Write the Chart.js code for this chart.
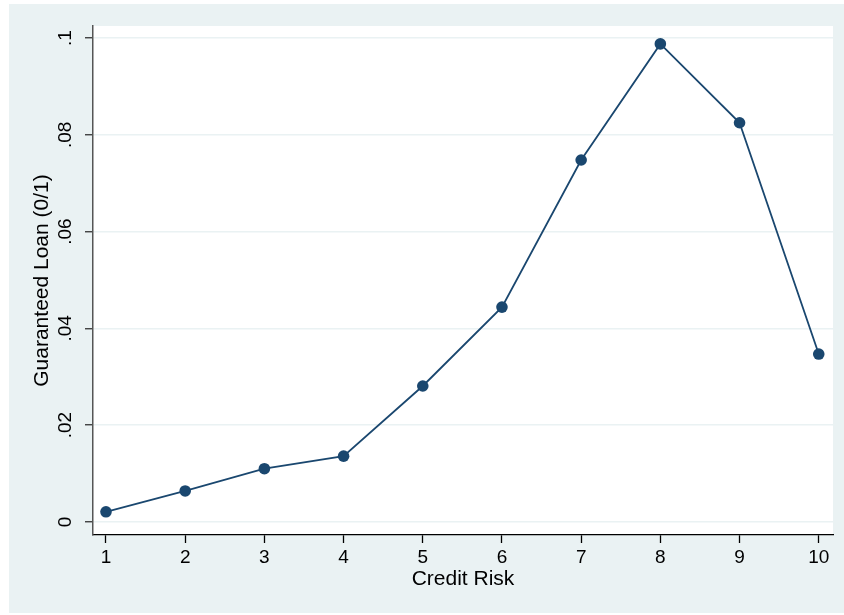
<!DOCTYPE html>
<html>
<head>
<meta charset="utf-8">
<script src="https://cdn.jsdelivr.net/npm/chart.js@4.4.1/dist/chart.umd.min.js"></script>
<style>
  html, body { margin: 0; padding: 0; background: #fff; }
  #wrap { position: absolute; left: 9px; top: 4px; width: 835px; height: 609px; background: #eaf2f3; }
</style>
</head>
<body>
<div id="wrap"><canvas id="riskChart"></canvas></div>
<script>
// dados
const creditRisk = [1, 2, 3, 4, 5, 6, 7, 8, 9, 10];
const guaranteedShare = [0.0021, 0.0064, 0.0110, 0.0136, 0.0281, 0.0444, 0.0748, 0.0988, 0.0825, 0.0347];
const yTickValues = [0, 0.02, 0.04, 0.06, 0.08, 0.1];
const yTickLabels = ['0', '.02', '.04', '.06', '.08', '.1'];

const navy = '#1a476f';
const gridBlue = '#eaf2f3';

// fundo branco só na área do gráfico
const plotBackground = {
  id: 'plotBackground',
  beforeDraw(chart) {
    const { ctx, chartArea: a } = chart;
    ctx.save();
    ctx.fillStyle = '#ffffff';
    ctx.fillRect(a.left, a.top, a.right - a.left, a.bottom - a.top);
    ctx.restore();
  }
};

const ctx = document.getElementById('riskChart').getContext('2d');
const riskChart = new Chart(ctx, {
  type: 'line',
  data: {
    datasets: [{
      label: 'Guaranteed Loan (0/1)',
      data: creditRisk.map((x, i) => ({ x: x, y: guaranteedShare[i] })),
      borderColor: navy,
      backgroundColor: navy,
      borderWidth: 1.8,
      pointRadius: 5.8,
      pointHoverRadius: 5.8,
      pointBorderWidth: 0,
      tension: 0
    }]
  },
  options: {
    responsive: true,
    maintainAspectRatio: false,
    animation: false,
    layout: { padding: { left: 0, top: 22, right: 11, bottom: 0 } },
    plugins: {
      legend: { display: false },
      tooltip: { enabled: false }
    },
    scales: {
      x: {
        type: 'linear',
        min: 0.836,
        max: 10.18,
        afterBuildTicks: (scale) => { scale.ticks = creditRisk.map(v => ({ value: v })); },
        afterFit: (scale) => { scale.height = 78; },
        grid: { display: true, drawOnChartArea: false, drawTicks: true, tickLength: 8, tickColor: '#000', tickWidth: 1.3 },
        border: { display: true, color: '#000', width: 1.3 },
        ticks: {
          color: '#000',
          padding: 3,
          maxRotation: 0,
          autoSkip: false,
          font: { family: 'Liberation Sans, Arial, sans-serif', size: 19 },
          callback: (v) => String(v)
        },
        title: {
          display: true,
          text: 'Credit Risk',
          color: '#000',
          font: { family: 'Liberation Sans, Arial, sans-serif', size: 21, lineHeight: 1.2 },
          padding: { top: 0, bottom: 21 }
        }
      },
      y: {
        min: -0.0027,
        max: 0.1025,
        afterBuildTicks: (scale) => { scale.ticks = yTickValues.map(v => ({ value: v })); },
        afterFit: (scale) => { scale.width = 84; },
        grid: { color: gridBlue, lineWidth: 1.5, drawTicks: true, tickLength: 8, tickColor: '#333', tickWidth: 1.3 },
        border: { display: true, color: '#555', width: 1.5 },
        ticks: {
          color: '#000',
          minRotation: 90,
          maxRotation: 90,
          crossAlign: 'center',
          padding: 6,
          autoSkip: false,
          font: { family: 'Liberation Sans, Arial, sans-serif', size: 19 },
          callback: (v) => {
            const i = yTickValues.findIndex(t => Math.abs(t - v) < 1e-9);
            return i >= 0 ? yTickLabels[i] : '';
          }
        },
        title: {
          display: true,
          text: 'Guaranteed Loan (0/1)',
          color: '#000',
          font: { family: 'Liberation Sans, Arial, sans-serif', size: 21, lineHeight: 1.2 },
          padding: { top: 21, bottom: 0 }
        }
      }
    }
  },
  plugins: [plotBackground]
});
</script>
</body>
</html>
